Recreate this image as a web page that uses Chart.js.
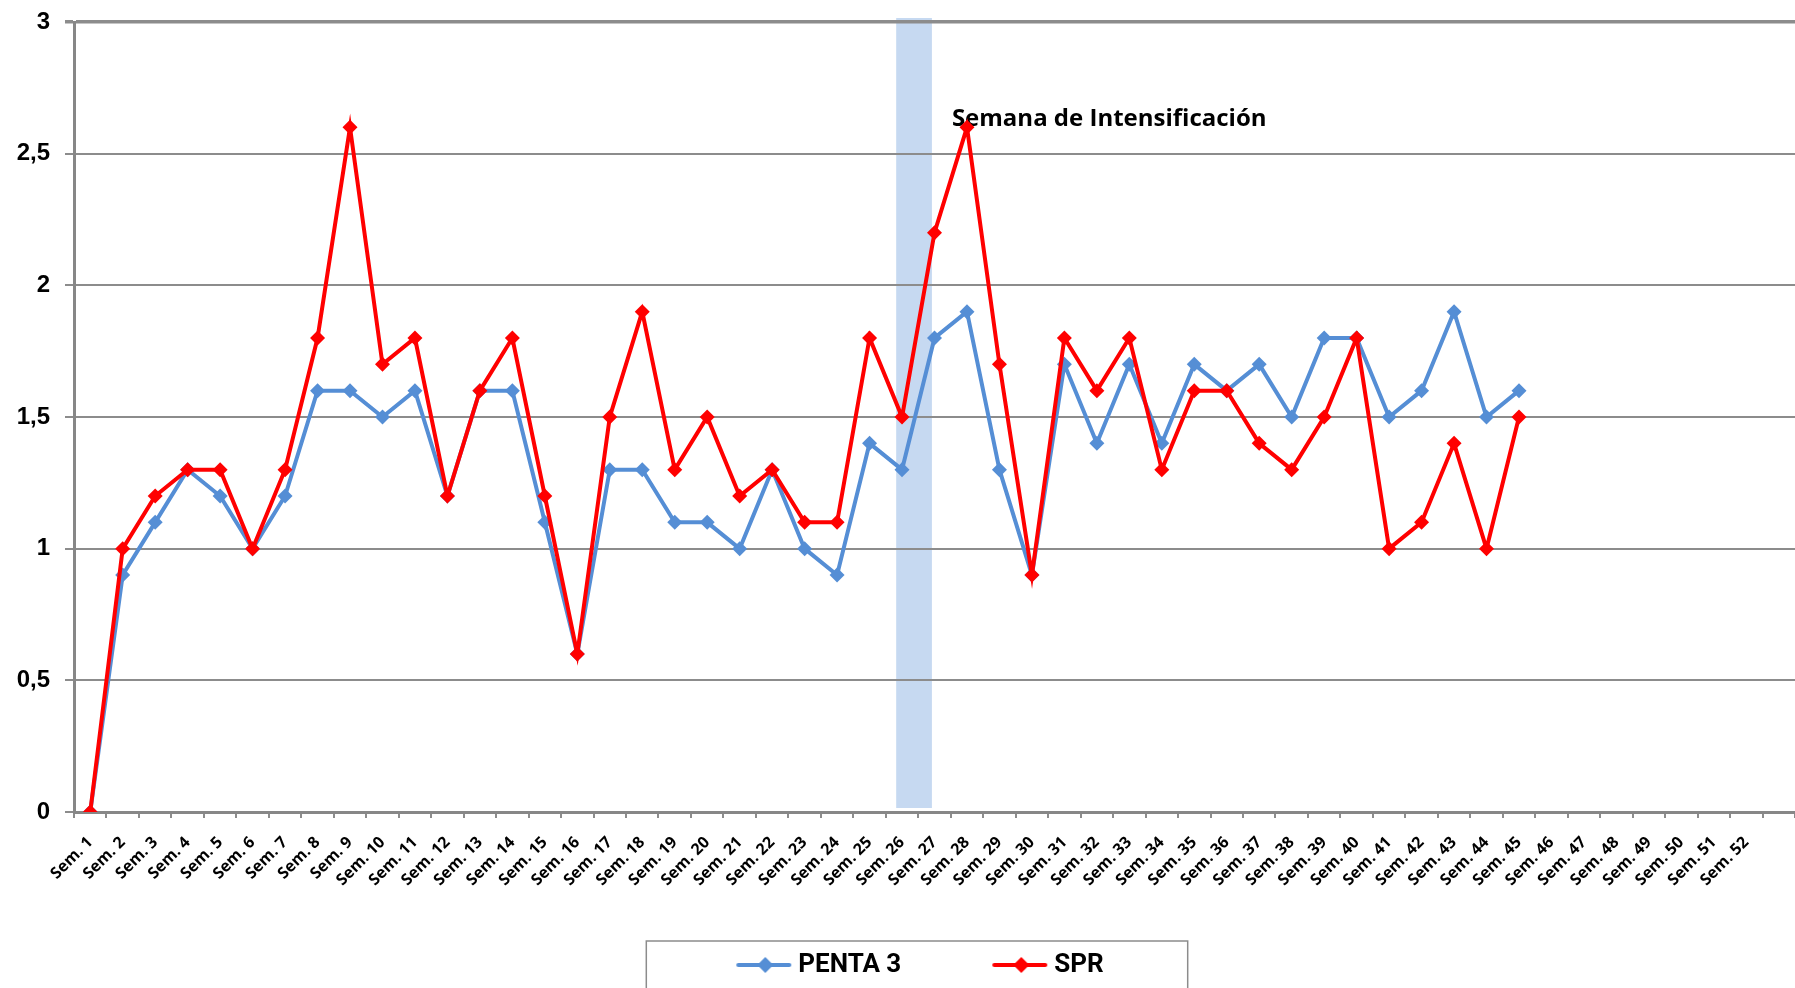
<!DOCTYPE html>
<html>
<head>
<meta charset="utf-8">
<script src="https://cdn.jsdelivr.net/npm/chart.js@4"></script>
<style>
  html, body { margin: 0; padding: 0; background: #fff; overflow: hidden; }
  #wrap { width: 1795px; height: 988px; }
</style>
</head>
<body>
<div id="wrap"><canvas id="semChart"></canvas></div>
<script>
// weekly categories (last slot is empty in the original sheet)
const weeks = ['Sem. 1', 'Sem. 2', 'Sem. 3', 'Sem. 4', 'Sem. 5', 'Sem. 6', 'Sem. 7', 'Sem. 8', 'Sem. 9', 'Sem. 10',
    'Sem. 11', 'Sem. 12', 'Sem. 13', 'Sem. 14', 'Sem. 15', 'Sem. 16', 'Sem. 17', 'Sem. 18', 'Sem. 19', 'Sem. 20',
    'Sem. 21', 'Sem. 22', 'Sem. 23', 'Sem. 24', 'Sem. 25', 'Sem. 26', 'Sem. 27', 'Sem. 28', 'Sem. 29', 'Sem. 30',
    'Sem. 31', 'Sem. 32', 'Sem. 33', 'Sem. 34', 'Sem. 35', 'Sem. 36', 'Sem. 37', 'Sem. 38', 'Sem. 39', 'Sem. 40',
    'Sem. 41', 'Sem. 42', 'Sem. 43', 'Sem. 44', 'Sem. 45', 'Sem. 46', 'Sem. 47', 'Sem. 48', 'Sem. 49', 'Sem. 50',
    'Sem. 51', 'Sem. 52', ''];

const penta3 = [0, 0.9, 1.1, 1.3, 1.2, 1.0, 1.2, 1.6, 1.6, 1.5,
    1.6, 1.2, 1.6, 1.6, 1.1, 0.6, 1.3, 1.3, 1.1, 1.1,
    1.0, 1.3, 1.0, 0.9, 1.4, 1.3, 1.8, 1.9, 1.3, 0.9,
    1.7, 1.4, 1.7, 1.4, 1.7, 1.6, 1.7, 1.5, 1.8, 1.8,
    1.5, 1.6, 1.9, 1.5, 1.6];

const spr = [0, 1.0, 1.2, 1.3, 1.3, 1.0, 1.3, 1.8, 2.6, 1.7,
    1.8, 1.2, 1.6, 1.8, 1.2, 0.6, 1.5, 1.9, 1.3, 1.5,
    1.2, 1.3, 1.1, 1.1, 1.8, 1.5, 2.2, 2.6, 1.7, 0.9,
    1.8, 1.6, 1.8, 1.3, 1.6, 1.6, 1.4, 1.3, 1.5, 1.8,
    1.0, 1.1, 1.4, 1.0, 1.5];

const yTickLabels = ['0', '0,5', '1', '1,5', '2', '2,5', '3'];

const intensificationWeek = 'Sem. 26';
const bandLabel = 'Semana de Intensificación';

const blue = '#558ED5';
const red = '#FF0000';

// legend sample: the box is wider than the drawn line so the two entries sit apart
const sampleBox = 132;
function legendSample(color) {
    const c = document.createElement('canvas');
    c.width = sampleBox + 14;
    c.height = 18;
    const g = c.getContext('2d');
    const x1 = c.width - 1;
    const x0 = x1 - 55;
    g.strokeStyle = color;
    g.lineWidth = 4;
    g.lineCap = 'round';
    g.beginPath();
    g.moveTo(x0 + 2, 9);
    g.lineTo(x1 - 2, 9);
    g.stroke();
    g.fillStyle = color;
    g.beginPath();
    g.moveTo(x0 + 29, 1);
    g.lineTo(x0 + 37, 9);
    g.lineTo(x0 + 29, 17);
    g.lineTo(x0 + 21, 9);
    g.closePath();
    g.fill();
    return c;
}

function bandEdges(chart) {
    const x = chart.scales.x;
    const i = weeks.indexOf(intensificationWeek);
    const step = x.getPixelForValue(i + 1) - x.getPixelForValue(i);
    return {
        left: x.getPixelForValue(i) - step * 0.18,
        right: x.getPixelForValue(i + 1) - step * 0.08
    };
}

const bandPlugin = {
    id: 'bandPlugin',
    afterLayout(chart) {
        // the legend sits a little left of the page centre
        chart.legend.left -= 19;
        chart.legend.right -= 19;
    },
    beforeDraw(chart) {
        const ctx = chart.ctx;
        const a = chart.chartArea;
        const b = bandEdges(chart);
        ctx.save();
        ctx.fillStyle = '#fff';
        ctx.fillRect(0, 0, chart.width, chart.height);
        ctx.fillStyle = '#C6D9F1';
        ctx.fillRect(b.left, a.top - 4, b.right - b.left, a.bottom - a.top);
        ctx.restore();
    },
    beforeDatasetsDraw(chart) {
        const ctx = chart.ctx;
        const b = bandEdges(chart);
        ctx.save();
        ctx.fillStyle = '#000';
        ctx.font = 'bold 24px "Open Sans"';
        ctx.textBaseline = 'alphabetic';
        ctx.fillText(bandLabel, b.right + 20, chart.scales.y.getPixelForValue(2.6) - 1);
        ctx.restore();
    },
    afterDraw(chart) {
        // frame round the legend
        const boxes = chart.legend.legendHitBoxes;
        if (!boxes || !boxes.length) return;
        const last = boxes[boxes.length - 1];
        const left = boxes[0].left + sampleBox - 49 - 90;
        const right = last.left + last.width + 84;
        const top = boxes[0].top - 11;
        const ctx = chart.ctx;
        ctx.save();
        ctx.strokeStyle = '#8c8c8c';
        ctx.lineWidth = 1.5;
        ctx.strokeRect(left, top, right - left, 120);
        ctx.restore();
    }
};

const samples = [legendSample(blue), legendSample(red)];

const ctx = document.getElementById('semChart').getContext('2d');
const semChart = new Chart(ctx, {
    type: 'line',
    data: {
        labels: weeks,
        datasets: [{
            label: 'PENTA 3',
            data: penta3,
            borderColor: blue,
            backgroundColor: blue,
            borderWidth: 4,
            pointStyle: 'rectRot',
            pointRadius: 7.5,
            pointBorderWidth: 0,
            tension: 0,
            order: 1
        }, {
            label: 'SPR',
            data: spr,
            borderColor: red,
            backgroundColor: red,
            borderWidth: 4,
            pointStyle: 'rectRot',
            pointRadius: 7.5,
            pointBorderWidth: 0,
            tension: 0,
            order: 0
        }]
    },
    options: {
        responsive: true,
        maintainAspectRatio: false,
        animation: false,
        layout: { autoPadding: false, padding: { top: 22, left: 0, right: 0, bottom: 0 } },
        plugins: {
            tooltip: { enabled: false },
            legend: {
                position: 'bottom',
                labels: {
                    usePointStyle: true,
                    pointStyleWidth: sampleBox,
                    padding: 8,
                    color: '#000',
                    font: { family: 'Roboto', size: 26, weight: 'bold' },
                    generateLabels: function (chart) {
                        return chart.data.datasets.map(function (ds, i) {
                            return {
                                text: ds.label,
                                pointStyle: samples[i],
                                fillStyle: ds.borderColor,
                                strokeStyle: ds.borderColor,
                                fontColor: '#000',
                                lineWidth: 0,
                                hidden: false,
                                datasetIndex: i
                            };
                        });
                    }
                }
            }
        },
        scales: {
            x: {
                offset: true,
                grid: { offset: true, drawOnChartArea: false, drawTicks: true, tickLength: 6, color: '#8c8c8c', lineWidth: 2 },
                border: { color: '#878787', width: 3 },
                ticks: {
                    autoSkip: false,
                    maxRotation: 45,
                    minRotation: 45,
                    padding: 15,
                    color: '#000',
                    font: { family: 'Open Sans', size: 16, weight: 'bold' }
                },
                afterFit: function (s) {
                    s.height = 132;
                    s.paddingRight = 0;
                }
            },
            y: {
                min: 0,
                max: 3,
                ticks: {
                    stepSize: 0.5,
                    padding: 15,
                    color: '#000',
                    font: { family: 'Liberation Sans', size: 24, weight: 'bold' },
                    callback: function (v) { return yTickLabels[Math.round(v * 2)]; }
                },
                grid: {
                    color: '#8c8c8c',
                    lineWidth: function (c) { return c.tick && c.tick.value === 3 ? 3.5 : 2; },
                    tickLength: 9
                },
                border: { color: '#878787', width: 3 },
                afterFit: function (s) {
                    s.width = 74;
                    s.paddingTop = 0;
                }
            }
        }
    },
    plugins: [bandPlugin]
});
</script>
</body>
</html>
